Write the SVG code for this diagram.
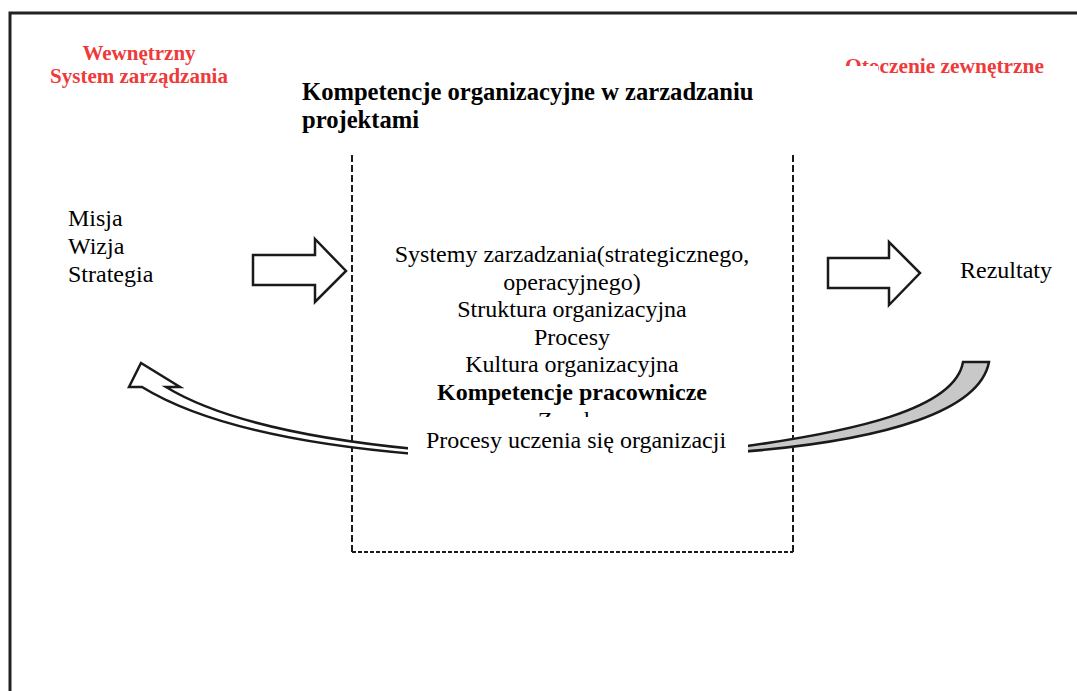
<svg xmlns="http://www.w3.org/2000/svg" width="1077" height="691" viewBox="0 0 1077 691">
<style>
.t{font-family:"Liberation Serif","Times New Roman",serif;font-size:24px;fill:#000}
.b{font-weight:bold}
.big{font-size:24.6px}
.red{font-family:"Liberation Serif","Times New Roman",serif;font-weight:bold;fill:#ee3a3a}
.arr{fill:#fff;stroke:#1a1a1a;stroke-width:2.5;stroke-linejoin:miter}
.dash{fill:none;stroke:#1a1a1a;stroke-width:2}
.cover{fill:#fff;stroke:none}
</style>
<rect width="1077" height="691" fill="#fff"/>
<g id="frame"><path d="M10,691 V13 H1077" fill="none" stroke="#222" stroke-width="3"/></g>
<g id="competence-box">
<path class="dash" d="M352,155 V552" stroke-dasharray="7 3"/>
<path class="dash" d="M793,155 V552" stroke-dasharray="7 3"/>
<path class="dash" d="M352,552 H793" stroke-dasharray="4 2"/>
</g>
<g id="connectors">
<polygon class="arr" points="253,255 315,255 315,239 346,271 315,302 315,285 253,285"/>
<polygon class="arr" points="828,258 889,258 889,242 920,273 889,305 889,288 828,288"/>
<path class="arr" d="M129,387 L141,363 L180,387 L166,387 Q240,432 415,449 L415,454 Q225,438 142,387 Z"/>
<path class="arr" style="fill:#c8c8c8" d="M740,447 C850,432 955,410 963,362 L989,362 C980,410 890,440 740,452 Z"/>
</g>
<g id="internal-label">
<text class="red" x="139" y="60" font-size="21" text-anchor="middle">Wewnętrzny</text>
<text class="red" x="139" y="83" font-size="21" text-anchor="middle">System zarządzania</text>
</g>
<g id="external-label">
<text class="red" x="845" y="73" font-size="21.4">Otoczenie zewnętrzne</text>
<rect class="cover" x="838" y="66" width="40" height="22"/>
</g>
<g id="title">
<text class="t b big" x="302" y="100">Kompetencje organizacyjne w zarzadzaniu</text>
<text class="t b big" x="302" y="128">projektami</text>
</g>
<g id="mission">
<text class="t" x="68" y="226">Misja</text>
<text class="t" x="68" y="254">Wizja</text>
<text class="t" x="68" y="282">Strategia</text>
</g>
<g id="results"><text class="t" x="960" y="278">Rezultaty</text></g>
<g id="competences">
<text class="t" x="572" y="262" text-anchor="middle">Systemy zarzadzania(strategicznego,</text>
<text class="t" x="572" y="290" text-anchor="middle">operacyjnego)</text>
<text class="t" x="572" y="317" text-anchor="middle">Struktura organizacyjna</text>
<text class="t" x="572" y="345" text-anchor="middle">Procesy</text>
<text class="t" x="572" y="372" text-anchor="middle">Kultura organizacyjna</text>
<text class="t b" x="572" y="400" text-anchor="middle">Kompetencje pracownicze</text>
<text class="t" x="573" y="428" text-anchor="middle">Zasoby</text>
</g>
<g id="learning">
<rect class="cover" x="408" y="417" width="340" height="44"/>
<text class="t" x="576" y="448" text-anchor="middle">Procesy uczenia się organizacji</text>
</g>
</svg>
